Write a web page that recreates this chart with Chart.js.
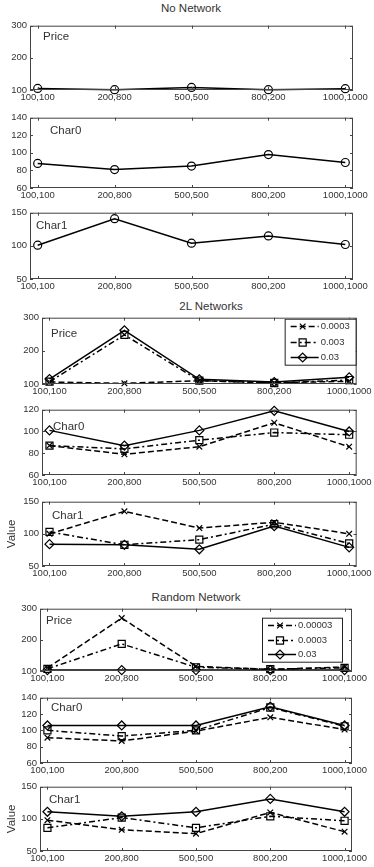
<!DOCTYPE html>
<html>
<head>
<meta charset="utf-8">
<script src="https://cdn.jsdelivr.net/npm/chart.js@4/dist/chart.umd.min.js"></script>
<style>
html, body { margin: 0; padding: 0; background: #fff; }
#page { position: relative; width: 374px; height: 867px; overflow: hidden; font-family: Arial, "Liberation Sans", sans-serif; }
.gtitle { position: absolute; transform: translateX(-50%); font-size: 11.5px; color: #333; white-space: nowrap; line-height: 12px; }
canvas { position: absolute; left: 0; }
</style>
</head>
<body>
<div id="page"></div>
<script>
// tick labels of the x axis
const xLabels = ['100,100', '200,800', '500,500', '800,200', '1000,1000'];

// No Network
const noPrice = [105, 101, 108, 101, 104];
const noChar0 = [88, 81, 85, 98, 89];
const noChar1 = [101, 141, 104, 115, 102];

// 2L Networks (0.0003, 0.003, 0.03)
const l2Names = ['0.0003', '0.003', '0.03'];
const l2Price1 = [106, 102, 110, 104, 108];
const l2Price2 = [107, 248, 110, 103, 112];
const l2Price3 = [115, 262, 114, 106, 120];
const l2Char0_1 = [87, 79, 86, 108, 86];
const l2Char0_2 = [87, 84, 92, 99, 97];
const l2Char0_3 = [101, 87, 101, 119, 100];
const l2Char1_1 = [100, 135, 109, 118, 100];
const l2Char1_2 = [103, 83, 91, 115, 85];
const l2Char1_3 = [84, 83, 76, 112, 79];

// Random Network (0.00003, 0.0003, 0.03)
const rnNames = ['0.00003', '0.0003', '0.03'];
const rnPrice1 = [110, 270, 115, 105, 113];
const rnPrice2 = [107, 187, 112, 106, 110];
const rnPrice3 = [103, 103, 103, 103, 103];
const rnChar0_1 = [91, 87, 99, 116, 101];
const rnChar0_2 = [100, 93, 100, 128, 105];
const rnChar0_3 = [106, 106, 106, 129, 106];
const rnChar1_1 = [98, 83, 77, 110, 80];
const rnChar1_2 = [86, 102, 86, 104, 97];
const rnChar1_3 = [111, 104, 111, 131, 111];

// line / marker styles (matlab like)
const stO = { pointStyle: 'circle', pointRadius: 4, borderDash: [] };
const stX = { pointStyle: 'crossRot', pointRadius: 4, borderDash: [6, 3] };
const stS = { pointStyle: 'rect', pointRadius: 5, borderDash: [6, 3, 2, 3] };
const stD = { pointStyle: 'rectRot', pointRadius: 4.5, borderDash: [] };

const groupTitles = [
    { text: 'No Network', x: 191, y: 8 },
    { text: '2L Networks', x: 211, y: 306 },
    { text: 'Random Network', x: 196, y: 597 }
];

// box = [left, top, right, bottom] of the axes
const panels = [
    { box: [30, 25, 353, 90], y: [100, 300, 100], name: 'Price', lab: [13, 11], series: [[noPrice, stO]] },
    { box: [30, 117, 353, 188], y: [60, 140, 20], name: 'Char0', lab: [20, 13], series: [[noChar0, stO]] },
    { box: [30, 212, 353, 279], y: [50, 150, 50], name: 'Char1', lab: [6, 13], series: [[noChar1, stO]] },

    { box: [42, 317, 358, 384], y: [100, 300, 100], name: 'Price', lab: [9, 16],
      series: [[l2Price1, stX], [l2Price2, stS], [l2Price3, stD]],
      legend: { names: l2Names, dx: -72, dy: 1, w: 71, h: 46 } },
    { box: [42, 409, 358, 475], y: [60, 120, 20], name: 'Char0', lab: [11, 17],
      series: [[l2Char0_1, stX], [l2Char0_2, stS], [l2Char0_3, stD]] },
    { box: [42, 501, 358, 566], y: [50, 150, 50], name: 'Char1', lab: [10, 14], ylabel: 'Value',
      series: [[l2Char1_1, stX], [l2Char1_2, stS], [l2Char1_3, stD]] },

    { box: [40, 608, 352, 671], y: [100, 300, 100], name: 'Price', lab: [6, 12],
      series: [[rnPrice1, stX], [rnPrice2, stS], [rnPrice3, stD]],
      legend: { names: rnNames, dx: -90, dy: 9, w: 80, h: 44 } },
    { box: [40, 697, 352, 763], y: [60, 140, 20], name: 'Char0', lab: [11, 10],
      series: [[rnChar0_1, stX], [rnChar0_2, stS], [rnChar0_3, stD]] },
    { box: [40, 786, 352, 851], y: [50, 150, 50], name: 'Char1', lab: [9, 13], ylabel: 'Value',
      series: [[rnChar1_1, stX], [rnChar1_2, stS], [rnChar1_3, stD]] }
];

const PAD_T = 8, PAD_B = 16, W = 374;
const FONT = 'Arial, "Liberation Sans", sans-serif';
const TEXT = '#333';

function drawMarker(ctx, st, x, y) {
    if (Chart.helpers && Chart.helpers.drawPoint) {
        Chart.helpers.drawPoint(ctx, { pointStyle: st.pointStyle, radius: st.pointRadius, rotation: 0, borderWidth: 1.2 }, x, y);
    }
}

const framePlugin = {
    id: 'frame',
    afterDatasetsDraw(chart, args, opts) {
        const { ctx, chartArea: a, scales } = chart;
        ctx.save();
        ctx.strokeStyle = '#444';
        ctx.lineWidth = 1;
        ctx.setLineDash([]);
        ctx.strokeRect(a.left + 0.5, a.top + 0.5, a.right - a.left - 1, a.bottom - a.top - 1);
        ctx.beginPath();
        scales.y.ticks.forEach(t => {
            const py = Math.round(scales.y.getPixelForValue(t.value)) + 0.5;
            ctx.moveTo(a.left, py); ctx.lineTo(a.left + 3, py);
            ctx.moveTo(a.right - 3, py); ctx.lineTo(a.right, py);
        });
        scales.x.ticks.forEach(t => {
            const px = Math.round(scales.x.getPixelForValue(t.value)) + 0.5;
            ctx.moveTo(px, a.bottom); ctx.lineTo(px, a.bottom - 3);
            ctx.moveTo(px, a.top); ctx.lineTo(px, a.top + 3);
        });
        ctx.stroke();

        // panel name inside the box
        ctx.fillStyle = TEXT;
        ctx.font = '11.5px ' + FONT;
        ctx.textBaseline = 'middle';
        ctx.textAlign = 'left';
        ctx.fillText(opts.name, a.left + opts.lab[0], a.top + opts.lab[1]);

        // legend box
        const lg = opts.legend;
        if (lg) {
            const lx = a.right + lg.dx, ly = a.top + lg.dy;
            ctx.fillStyle = '#fff';
            ctx.fillRect(lx, ly, lg.w, lg.h);
            ctx.strokeStyle = '#222';
            ctx.strokeRect(lx + 0.5, ly + 0.5, lg.w, lg.h);
            chart.data.datasets.forEach((ds, i) => {
                const ry = Math.round(ly + lg.h / 6 + i * lg.h / 3) + 0.5;
                ctx.strokeStyle = '#000';
                ctx.lineWidth = 1.5;
                ctx.setLineDash(ds.borderDash);
                ctx.beginPath();
                ctx.moveTo(lx + 6, ry); ctx.lineTo(lx + 34, ry);
                ctx.stroke();
                ctx.setLineDash([]);
                ctx.fillStyle = 'rgba(0,0,0,0)';
                ctx.lineWidth = 1.2;
                drawMarker(ctx, ds, lx + 18, ry);
                ctx.fillStyle = TEXT;
                ctx.font = '9.5px ' + FONT;
                ctx.fillText(lg.names[i], lx + 36, ry);
            });
        }
        ctx.restore();
    }
};

const page = document.getElementById('page');

groupTitles.forEach(g => {
    const d = document.createElement('div');
    d.className = 'gtitle';
    d.textContent = g.text;
    d.style.left = g.x + 'px';
    d.style.top = (g.y - 6) + 'px';
    page.appendChild(d);
});

panels.forEach(p => {
    const [L, T, R, B] = p.box;
    const h = B - T + PAD_T + PAD_B;
    const canvas = document.createElement('canvas');
    canvas.width = W;
    canvas.height = h;
    canvas.style.width = W + 'px';
    canvas.style.height = h + 'px';
    canvas.style.top = (T - PAD_T) + 'px';
    page.appendChild(canvas);

    const datasets = p.series.map(([vals, st]) => ({
        data: vals.map((v, i) => ({ x: i + 1, y: v })),
        borderColor: '#000',
        borderWidth: 1.5,
        borderDash: st.borderDash,
        pointStyle: st.pointStyle,
        pointRadius: st.pointRadius,
        pointBorderColor: '#000',
        pointBackgroundColor: 'rgba(0,0,0,0)',
        pointBorderWidth: 1.2,
        tension: 0,
        fill: false,
        clip: false
    }));

    new Chart(canvas.getContext('2d'), {
        type: 'line',
        data: { datasets },
        plugins: [framePlugin],
        options: {
            responsive: false,
            animation: false,
            devicePixelRatio: 1,
            layout: { padding: { top: PAD_T, right: W - R, left: 0, bottom: 0 } },
            plugins: {
                legend: { display: false },
                tooltip: { enabled: false },
                frame: { name: p.name, lab: p.lab, legend: p.legend || null }
            },
            scales: {
                x: {
                    type: 'linear',
                    min: 0.9,
                    max: 5.1,
                    afterBuildTicks: s => { s.ticks = xLabels.map((_, i) => ({ value: i + 1 })); },
                    afterFit: s => { s.height = PAD_B; },
                    grid: { display: false, drawTicks: false },
                    border: { display: false },
                    ticks: {
                        autoSkip: false, maxRotation: 0, minRotation: 0, padding: 2,
                        color: TEXT, font: { family: FONT, size: 9.5 },
                        callback: v => xLabels[Math.round(v) - 1]
                    }
                },
                y: {
                    min: p.y[0],
                    max: p.y[1],
                    afterFit: s => { s.width = L; },
                    grid: { display: false, drawTicks: false },
                    border: { display: false },
                    title: {
                        display: !!p.ylabel, text: p.ylabel || '', color: TEXT,
                        font: { family: FONT, size: 11.5 }, padding: { top: 5, bottom: 0 }
                    },
                    ticks: {
                        stepSize: p.y[2], padding: 3,
                        color: TEXT, font: { family: FONT, size: 9.5 }
                    }
                }
            }
        }
    });
});
</script>
</body>
</html>
